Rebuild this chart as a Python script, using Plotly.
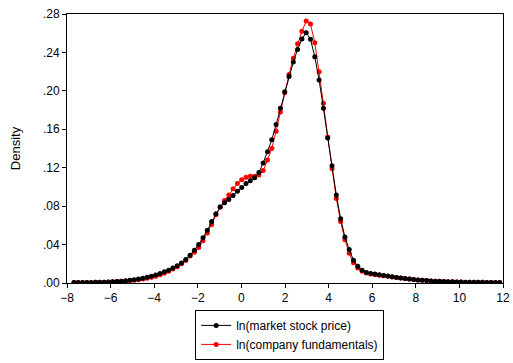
import numpy as np
import plotly.graph_objects as go

# Kernel density estimates evaluated on a common 100-point grid
grid_start, grid_end, grid_n = -7.68, 11.85, 100

density_price = [
    0.0004, 0.0004, 0.0005, 0.0005, 0.0006, 0.0007, 0.0008, 0.0009, 0.0011, 0.0013,
    0.0016, 0.0019, 0.0023, 0.0028, 0.0034, 0.0041, 0.0050, 0.0060, 0.0071, 0.0084,
    0.0100, 0.0116, 0.0134, 0.0155, 0.0180, 0.0208, 0.0245, 0.0290, 0.0340, 0.0400,
    0.0470, 0.0550, 0.0640, 0.0720, 0.0790, 0.0835, 0.0870, 0.0910, 0.0955, 0.0995,
    0.1035, 0.1065, 0.1095, 0.1150, 0.1250, 0.1365, 0.1490, 0.1650, 0.1820, 0.1990,
    0.2150, 0.2300, 0.2430, 0.2540, 0.2605, 0.2536, 0.2355, 0.2112, 0.1820, 0.1510,
    0.1220, 0.0917, 0.0670, 0.0480, 0.0348, 0.0237, 0.0174, 0.0132, 0.0110, 0.0100,
    0.0093, 0.0086, 0.0079, 0.0072, 0.0065, 0.0058, 0.0052, 0.0046, 0.0041, 0.0036,
    0.0032, 0.0028, 0.0025, 0.0022, 0.0019, 0.0017, 0.0015, 0.0013, 0.0012, 0.0011,
    0.0010, 0.0009, 0.0008, 0.0008, 0.0007, 0.0007, 0.0006, 0.0006, 0.0005, 0.0005,
]

density_fundamentals = [
    0.0004, 0.0004, 0.0005, 0.0005, 0.0006, 0.0007, 0.0008, 0.0009, 0.0011, 0.0013,
    0.0015, 0.0018, 0.0021, 0.0025, 0.0029, 0.0034, 0.0041, 0.0049, 0.0059, 0.0071,
    0.0085, 0.0102, 0.0122, 0.0145, 0.0170, 0.0200, 0.0235, 0.0280, 0.0320, 0.0370,
    0.0440, 0.0520, 0.0610, 0.0710, 0.0790, 0.0860, 0.0915, 0.0980, 0.1035, 0.1075,
    0.1100, 0.1112, 0.1112, 0.1125, 0.1170, 0.1280, 0.1400, 0.1580, 0.1780, 0.1980,
    0.2170, 0.2340, 0.2490, 0.2620, 0.2727, 0.2695, 0.2500, 0.2200, 0.1870, 0.1520,
    0.1190, 0.0880, 0.0640, 0.0450, 0.0310, 0.0210, 0.0155, 0.0122, 0.0104, 0.0094,
    0.0087, 0.0081, 0.0075, 0.0069, 0.0063, 0.0057, 0.0051, 0.0046, 0.0041, 0.0036,
    0.0032, 0.0028, 0.0025, 0.0022, 0.0019, 0.0017, 0.0015, 0.0013, 0.0012, 0.0011,
    0.0010, 0.0009, 0.0008, 0.0008, 0.0007, 0.0007, 0.0006, 0.0006, 0.0005, 0.0005,
]

x_ticks = [-8, -6, -4, -2, 0, 2, 4, 6, 8, 10, 12]
y_ticks = [0.00, 0.04, 0.08, 0.12, 0.16, 0.20, 0.24, 0.28]
y_tick_labels = [".00", ".04", ".08", ".12", ".16", ".20", ".24", ".28"]

grid = np.linspace(grid_start, grid_end, grid_n)
FONT = "Arial, Liberation Sans, sans-serif"

fig = go.Figure()
# red drawn first so the black series sits on top
fig.add_trace(go.Scatter(
    x=grid, y=density_fundamentals, mode="lines+markers",
    name="ln(company fundamentals)", legendrank=2,
    line=dict(color="#ff0000", width=1),
    marker=dict(color="#ff0000", size=5),
))
fig.add_trace(go.Scatter(
    x=grid, y=density_price, mode="lines+markers",
    name="ln(market stock price)", legendrank=1,
    line=dict(color="#000000", width=1),
    marker=dict(color="#000000", size=5),
))

axis_common = dict(
    showgrid=False, zeroline=False, showline=True, linecolor="#000000",
    linewidth=1, mirror=True, ticks="outside", ticklen=4, tickcolor="#000000",
    tickfont=dict(family=FONT, size=12, color="#000000"),
)

fig.update_layout(
    width=513, height=363,
    margin=dict(l=67, r=10, t=14, b=80, autoexpand=False),
    paper_bgcolor="white", plot_bgcolor="white",
    font=dict(family=FONT, size=12, color="#000000"),
    xaxis=dict(range=[-8, 12], tickvals=x_ticks, automargin=False, **axis_common),
    yaxis=dict(range=[0, 0.28], tickvals=y_ticks, ticktext=y_tick_labels,
               automargin=False,
               title=dict(text="Density", standoff=19,
                          font=dict(family=FONT, size=13)),
               **axis_common),
    showlegend=True,
    legend=dict(
        x=0.294, y=-0.1, xanchor="left", yanchor="top",
        bordercolor="#000000", borderwidth=1, bgcolor="white",
        font=dict(family=FONT, size=12, color="#000000"),
        tracegroupgap=0, itemwidth=30,
    ),
)

fig.write_html("out.html")
